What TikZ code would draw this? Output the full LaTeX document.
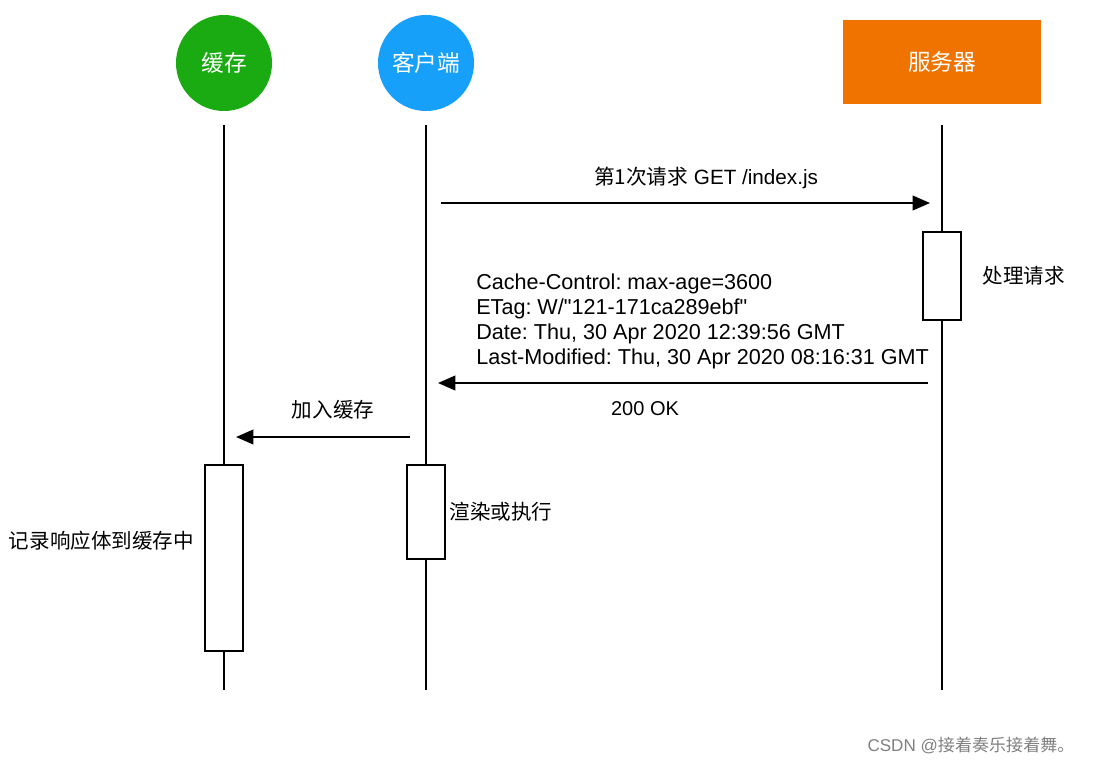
\documentclass[tikz,border=0pt]{standalone}
\usepackage{fontspec}
\setmainfont{Liberation Sans}[Ligatures=TeXOff]
\newfontfamily\cjk{Noto Sans CJK SC}
\usepackage{tikz}
\usetikzlibrary{arrows.meta, positioning}
\frenchspacing
\definecolor{cachegreen}{RGB}{26,170,18}
\definecolor{clientblue}{RGB}{22,160,250}
\definecolor{serverorange}{RGB}{240,115,0}
\tikzset{
 actor/.style={circle, minimum size=72pt, inner sep=0pt, text=white, font=\cjk\fontsize{17}{20}\selectfont},
 serverbox/.style={rectangle, minimum width=149pt, minimum height=63pt, fill=serverorange, text=white, font=\cjk\fontsize{17}{20}\selectfont},
 lifeline/.style={line width=1.3pt},
 activation/.style={draw, line width=1.3pt, fill=white, minimum width=29pt, inner sep=0pt},
 msg/.style={line width=1.3pt, -{Triangle[length=13pt,width=11pt]}},
 cnlabel/.style={font=\cjk\fontsize{15.4}{18}\selectfont},
 header/.style={font=\fontsize{16.2}{18.75}\selectfont, align=left, inner sep=0pt}
}

\begin{document}
\begin{tikzpicture}[x=0.75pt, y=-0.75pt]
 \useasboundingbox (0,0) rectangle (1094,764);

 \node[actor, fill=cachegreen] (cache) at (224,63) {缓存};
 \node[actor, fill=clientblue] (client) at (426,63) {客户端};
 \node[serverbox] (server) at (942,62) {服务器};

 \coordinate (cacheTop) at (224,125);
 \coordinate (cacheEnd) at (224,690);
 \coordinate (clientTop) at (426,125);
 \coordinate (clientEnd) at (426,690);
 \coordinate (serverTop) at (942,125);
 \coordinate (serverEnd) at (942,690);

 \draw[lifeline] (cacheTop) -- (cacheEnd);
 \draw[lifeline] (clientTop) -- (clientEnd);
 \draw[lifeline] (serverTop) -- (serverEnd);

 % activations
 \node[activation, minimum height=66pt] (process) at (942,276) {};
 \node[activation, minimum height=71pt] (render) at (426,512) {};
 \node[activation, minimum height=140pt] (store) at (224,558) {};

 \node[cnlabel, right=12pt of process] (processText) {处理请求};
 \node[cnlabel, right=-1pt of render] (renderText) {渲染或执行};
 \node[cnlabel, left=4pt of store, yshift=13pt] (storeText) {记录响应体到缓存中};

 % messages
 \coordinate (reqStart) at (441,203);
 \coordinate (reqEnd) at (930,203);
 \draw[msg] (reqStart) -- (reqEnd);
 \node[font=\fontsize{15.5}{18}\selectfont] (reqText) at (706,178) {{\cjk 第1次请求} GET /index.js};

 \coordinate (respStart) at (928,383);
 \coordinate (respEnd) at (438,383);
 \draw[msg] (respStart) -- (respEnd);
 \node[header, anchor=north west] (headers) at (476,274)
  {Cache-Control: max-age=3600\\
   ETag: W/"121-171ca289ebf"\\
   Date: Thu, 30 Apr 2020 12:39:56 GMT\\
   Last-Modified: Thu, 30 Apr 2020 08:16:31 GMT};
 \node[font=\fontsize{15}{18}\selectfont] (okText) at (645,409) {200 OK};

 \coordinate (addStart) at (410,437);
 \coordinate (addEnd) at (236,437);
 \draw[msg] (addStart) -- (addEnd);
 \node[cnlabel] (addText) at (333,410) {加入缓存};

 \node[text=gray, font=\fontsize{12.8}{15}\selectfont] (mark) at (971,745) {CSDN @{\cjk 接着奏乐接着舞。}};

 \end{tikzpicture}
\end{document}
